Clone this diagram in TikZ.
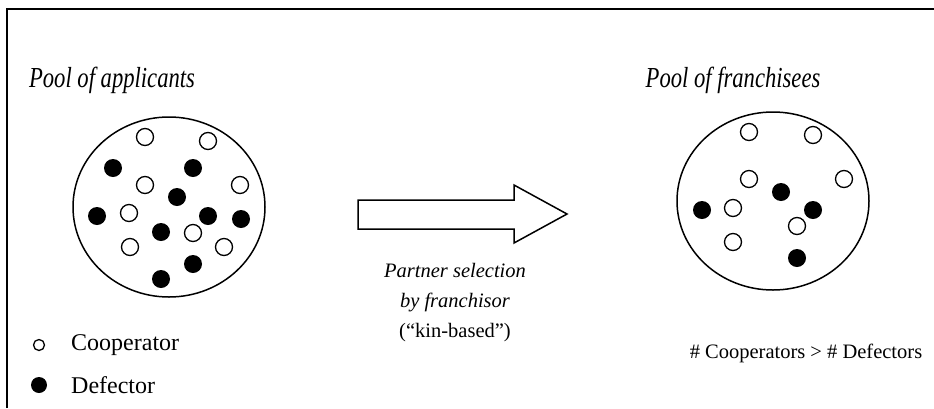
\documentclass[tikz,border=0pt]{standalone}
\usepackage{graphicx}
\usepackage{fontspec}
\setmainfont{Liberation Serif}
\newcommand{\condensed}[1]{\scalebox{0.78}[1]{#1}}
\begin{document}
\begin{tikzpicture}[x=1pt,y=-1pt,
  coop/.style={circle,draw,line width=1.3pt,fill=white,inner sep=0pt,minimum size=17pt},
  defe/.style={circle,fill=black,inner sep=0pt,minimum size=18pt},
  ttl/.style={font=\fontsize{29}{33}\selectfont\itshape,inner sep=0pt},
  txt/.style={font=\fontsize{20.5}{30}\selectfont,inner sep=0pt},
  lgd/.style={font=\fontsize{24}{28}\selectfont,inner sep=0pt,anchor=west}]
\useasboundingbox (0,0) rectangle (934,408);
\draw[line width=2pt] (7,408) -- (7,9) -- (934,9);
% titles
\node[ttl] (t1) at (112,80) {\condensed{Pool of applicants}};
\node[ttl] (t2) at (733,80) {\condensed{Pool of franchisees}};
% pools
\draw[line width=1.5pt] (169,207) ellipse [x radius=96, y radius=90];
\draw[line width=1.5pt] (773,201) ellipse [x radius=96, y radius=89];
% left pool
\foreach \p/\q [count=\i] in {145/137,208/141,145/185,240/185,129/213,193/233,130/247,224/247}
  \node[coop] (lc\i) at (\p,\q) {};
\foreach \p/\q [count=\i] in {113/168,193/168,177/197,97/216,208/216,241/219,161/232,193/264,161/279}
  \node[defe] (ld\i) at (\p,\q) {};
% right pool
\foreach \p/\q [count=\i] in {749/132,813/135,749/179,844/179,733/208,797/226,733/242}
  \node[coop] (rc\i) at (\p,\q) {};
\foreach \p/\q [count=\i] in {781/192,702/210,813/210,797/258}
  \node[defe] (rd\i) at (\p,\q) {};
% block arrow
\draw[line width=1.5pt] (358,200) -- (514,200) -- (514,185) -- (567,214) -- (514,243) -- (514,229) -- (358,229) -- cycle;
% middle text
\node[txt,align=center] (mid) at (455,303) {\textit{Partner selection}\\\textit{by franchisor}\\(“kin-based”)};
% legend
\node[coop,minimum size=11pt,line width=1.3pt] (lgc) at (39,345) {};
\node[defe,minimum size=16pt] (lgd1) at (39,385) {};
\node[lgd] (lgct) at (71,345) {Cooperator};
\node[lgd] (lgdt) at (71,385) {Defector};
% result
\node[txt] (res) at (806,353) {\# Cooperators > \# Defectors};
\end{tikzpicture}
\end{document}
